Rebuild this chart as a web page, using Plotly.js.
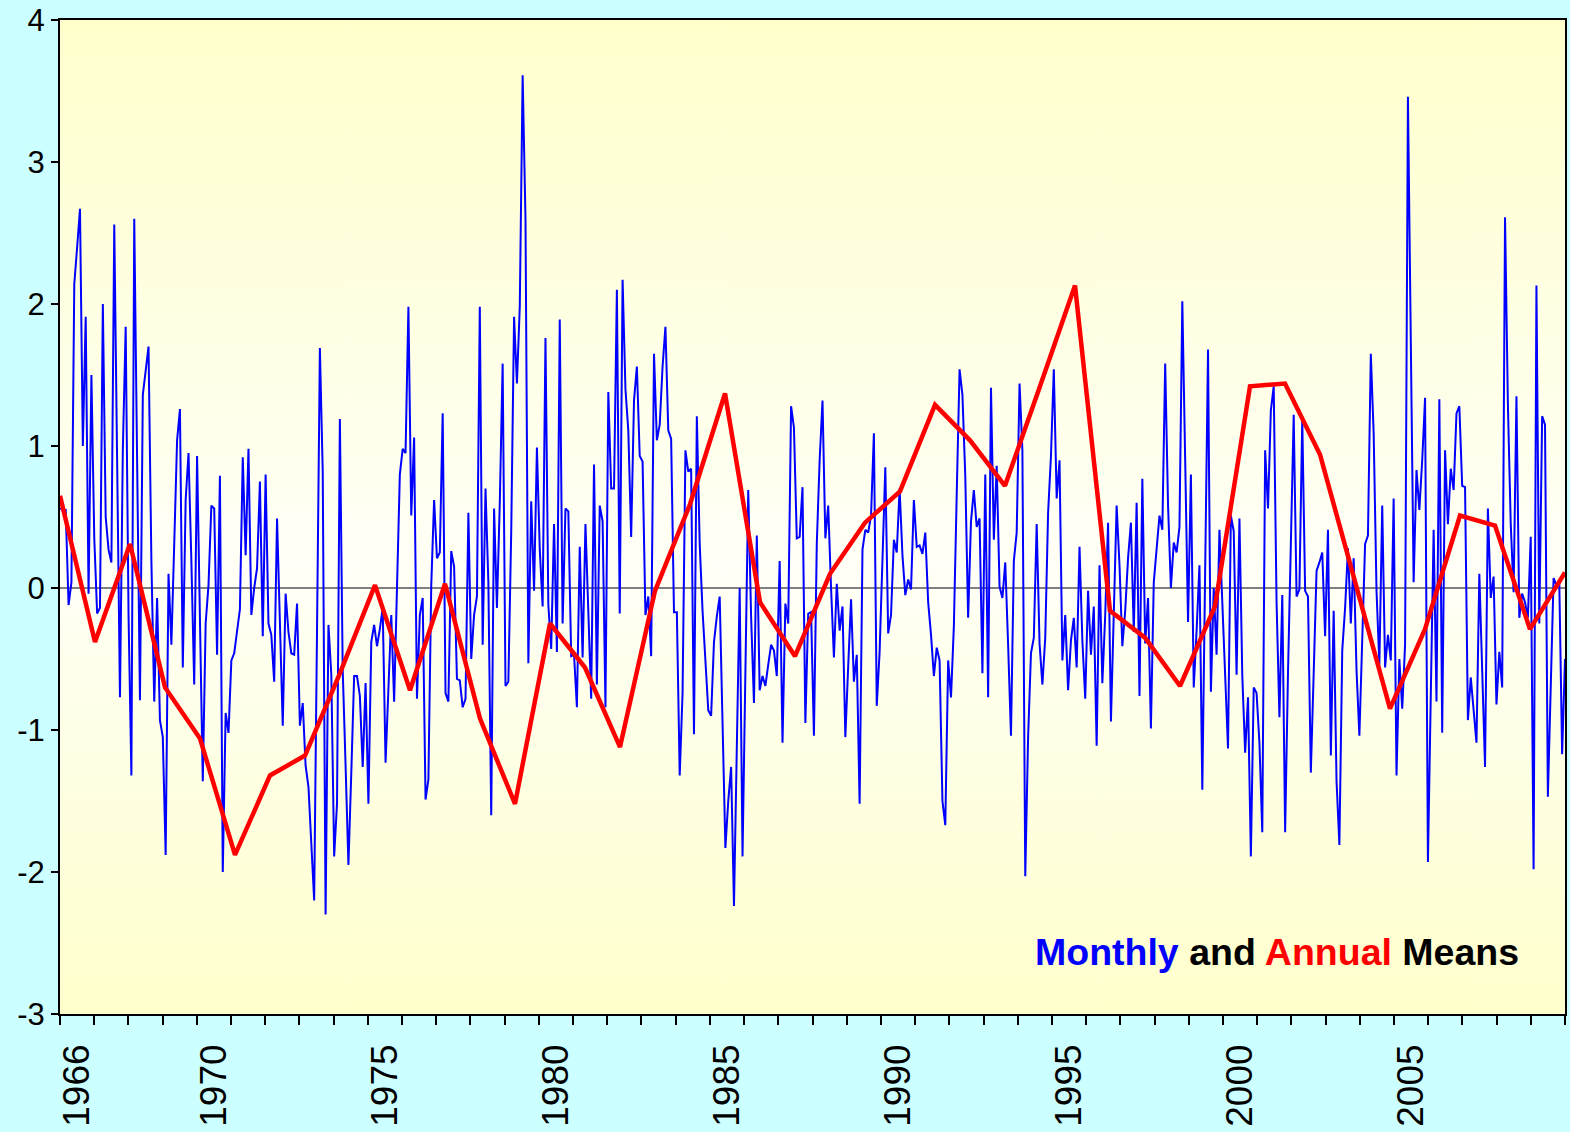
<!DOCTYPE html>
<html>
<head>
<meta charset="utf-8">
<script src="https://cdn.plot.ly/plotly-3.0.1.min.js"></script>
<style>
html, body { margin: 0; padding: 0; background: #CCFFFF; }
#chart { width: 1570px; height: 1132px; }
</style>
</head>
<body>
<div id="chart"></div>
<script>
// ---- DATA ----
const years = [1966,1967,1968,1969,1970,1971,1972,1973,1974,1975,1976,1977,1978,1979,1980,1981,1982,1983,1984,1985,1986,1987,1988,1989,1990,1991,1992,1993,1994,1995,1996,1997,1998,1999,2000,2001,2002,2003,2004,2005,2006,2007,2008,2009];

const monthly = [
  0.56, 0.55, 0.55, -0.12, 0.04, 2.14, 2.4, 2.67, 1.0, 1.91, -0.04, 1.5,
  0.35, -0.18, -0.14, 2.0, 0.5, 0.27, 0.18, 2.56, 0.9, -0.77, 0.97, 1.84,
  -0.19, -1.32, 2.6, 0.9, -0.79, 1.36, 1.54, 1.7, 0.19, -0.8, -0.07, -0.93,
  -1.05, -1.88, 0.1, -0.4, 0.31, 1.04, 1.26, -0.56, 0.62, 0.95, 0.19, -0.68,
  0.93, -0.2, -1.36, -0.25, 0.02, 0.58, 0.56, -0.47, 0.79, -2.0, -0.88, -1.02,
  -0.51, -0.46, -0.3, -0.15, 0.92, 0.23, 0.98, -0.19, 0.0, 0.14, 0.75, -0.34,
  0.8, -0.25, -0.33, -0.66, 0.49, -0.3, -0.97, -0.04, -0.31, -0.46, -0.47, -0.11,
  -0.97, -0.81, -1.25, -1.40, -1.8, -2.2, -0.3, 1.69, 0.82, -2.3, -0.26, -0.61,
  -1.89, -1.52, 1.19, -0.58, -1.25, -1.95, -1.3, -0.62, -0.62, -0.76, -1.26, -0.67,
  -1.52, -0.38, -0.26, -0.41, -0.29, -0.14, -1.23, -0.76, -0.19, -0.8, 0.04, 0.8,
  0.98, 0.95, 1.98, 0.51, 1.06, -0.78, -0.19, -0.07, -1.49, -1.35, 0.02, 0.62,
  0.21, 0.25, 1.23, -0.74, -0.8, 0.26, 0.15, -0.64, -0.65, -0.84, -0.78, 0.53,
  -0.5, -0.19, -0.06, 1.98, -0.4, 0.7, 0.04, -1.6, 0.56, -0.14, 0.6, 1.58,
  -0.69, -0.66, 0.39, 1.91, 1.44, 1.98, 3.61, 2.6, -0.53, 0.61, -0.02, 0.99,
  0.27, -0.13, 1.76, -0.12, -0.43, 0.45, -0.45, 1.89, -0.25, 0.56, 0.54, -0.48,
  -0.47, -0.84, 0.29, -0.49, 0.45, -0.19, -0.78, 0.87, -0.68, 0.58, 0.47, -0.84,
  1.38, 0.7, 0.7, 2.1, -0.18, 2.17, 1.4, 1.11, 0.36, 1.32, 1.56, 0.93,
  0.89, -0.19, -0.06, -0.48, 1.65, 1.04, 1.15, 1.56, 1.84, 1.11, 1.05, -0.17,
  -0.17, -1.32, -0.74, 0.97, 0.82, 0.84, -1.03, 1.21, 0.31, -0.16, -0.5, -0.86,
  -0.9, -0.38, -0.2, -0.06, -0.95, -1.83, -1.5, -1.26, -2.24, -1.1, 0.0, -1.89,
  -0.6, 0.69, -0.2, -0.81, 0.37, -0.72, -0.62, -0.69, -0.54, -0.4, -0.44, -0.62,
  0.19, -1.09, -0.11, -0.25, 1.28, 1.13, 0.35, 0.36, 0.71, -0.95, -0.18, -0.17,
  -1.04, 0.31, 0.9, 1.32, 0.35, 0.58, 0.0, -0.49, 0.03, -0.3, -0.13, -1.05,
  -0.55, -0.08, -0.66, -0.47, -1.52, 0.27, 0.41, 0.39, 0.51, 1.09, -0.83, -0.45,
  0.2, 0.85, -0.32, -0.19, 0.34, 0.25, 0.7, 0.23, -0.05, 0.06, -0.01, 0.62,
  0.29, 0.3, 0.24, 0.39, -0.1, -0.33, -0.62, -0.42, -0.51, -1.5, -1.67, -0.51,
  -0.77, -0.27, 0.66, 1.54, 1.36, 0.79, -0.21, 0.47, 0.69, 0.43, 0.49, -0.6,
  0.8, -0.77, 1.41, 0.34, 0.86, 0.01, -0.07, 0.18, -0.4, -1.04, 0.19, 0.39,
  1.44, 0.97, -2.03, -1.05, -0.46, -0.35, 0.45, -0.39, -0.68, -0.35, 0.53, 0.93,
  1.54, 0.63, 0.9, -0.51, -0.19, -0.72, -0.37, -0.21, -0.56, 0.29, -0.37, -0.78,
  -0.02, -0.47, -0.13, -1.11, 0.16, -0.67, -0.19, 0.46, -0.94, -0.2, 0.58, 0.16,
  -0.41, -0.16, 0.21, 0.46, -0.31, 0.6, -0.76, 0.77, -0.39, -0.07, -0.99, 0.04,
  0.3, 0.51, 0.41, 1.58, 0.58, 0.0, 0.32, 0.25, 0.43, 2.02, 0.9, -0.24,
  0.8, -0.7, -0.3, 0.16, -1.42, 0.1, 1.68, -0.73, 0.0, -0.47, 0.41, -0.1,
  -0.6, -1.13, 0.51, 0.4, -0.61, 0.49, -0.62, -1.16, -0.77, -1.89, -0.7, -0.74,
  -1.09, -1.72, 0.97, 0.56, 1.25, 1.42, -0.1, -0.91, -0.05, -1.72, -0.6, 0.41,
  1.22, -0.06, -0.01, 1.19, -0.02, -0.06, -1.3, -0.6, 0.12, 0.18, 0.25, -0.34,
  0.41, -1.18, -0.16, -1.36, -1.81, -0.44, -0.14, 0.28, -0.25, 0.21, -0.58, -1.04,
  -0.4, 0.31, 0.37, 1.65, 1.09, -0.02, -0.54, 0.58, -0.56, -0.33, -0.51, 0.63,
  -1.32, -0.5, -0.85, -0.4, 3.46, 1.8, 0.04, 0.83, 0.55, 0.9, 1.34, -1.93,
  -0.8, 0.41, -0.8, 1.33, -1.02, 0.97, 0.45, 0.84, 0.69, 1.23, 1.28, 0.72,
  0.71, -0.93, -0.63, -0.85, -1.09, 0.1, -0.62, -1.26, 0.56, -0.07, 0.08, -0.82,
  -0.45, -0.7, 2.61, 1.3, 0.45, -0.03, 1.35, -0.21, -0.04, -0.1, -0.21, 0.36,
  -1.98, 2.13, -0.25, 1.21, 1.15, -1.47, -0.7, 0.07, 0.02, 0.04, -1.17, -0.5
];

const annual = [
  0.65, -0.38, 0.31, -0.70, -1.06, -1.88, -1.32, -1.18, -0.60, 0.02,
  -0.72, 0.03, -0.92, -1.52, -0.25, -0.56, -1.12, -0.02, 0.59, 1.37,
  -0.10, -0.48, 0.10, 0.46, 0.68, 1.29, 1.04, 0.72, 1.42, 2.13,
  -0.16, -0.35, -0.69, -0.13, 1.42, 1.44, 0.94, 0.05, -0.85, -0.29,
  0.51, 0.44, -0.29, 0.11
];

const labelYears = [1966, 1970, 1975, 1980, 1985, 1990, 1995, 2000, 2005];
const yTickVals = [-3, -2, -1, 0, 1, 2, 3, 4];
const yTickText = ['-3', '-2', '-1', '0', '1', '2', '3', '4'];

// ---- POSITIONS (from indices) ----
const nYears = years.length;
const x0 = years[0];
const x1 = years[0] + nYears;
const xMonthly = monthly.map((_, i) => x0 + i * nYears / (monthly.length - 1));
const xAnnual = annual.map((_, i) => x0 + i * nYears / (annual.length - 1));
const yearBounds = [];
for (let y = x0; y <= x1; y++) yearBounds.push(y);
const labelPos = labelYears.map(y => y + 0.5);
const labelText = labelYears.map(String);

// ---- Background gradient image ----
const cv = document.createElement('canvas');
cv.width = 8; cv.height = 600;
const ctx = cv.getContext('2d');
const grad = ctx.createLinearGradient(0, 0, 0, 600);
grad.addColorStop(0, '#FFFFCC');
grad.addColorStop(0.55, '#FFFFF7');
grad.addColorStop(1, '#FFFFCC');
ctx.fillStyle = grad;
ctx.fillRect(0, 0, 8, 600);
const bgURL = cv.toDataURL('image/png');

const FONT = 'Arial, "Liberation Sans", sans-serif';

const traces = [
  {
    x: xMonthly, y: monthly, type: 'scatter', mode: 'lines',
    line: { color: '#0000FF', width: 2 },
    xaxis: 'x', yaxis: 'y', hoverinfo: 'skip', showlegend: false
  },
  {
    x: xAnnual, y: annual, type: 'scatter', mode: 'lines',
    line: { color: '#FF0000', width: 4.5 },
    xaxis: 'x2', yaxis: 'y', hoverinfo: 'skip', showlegend: false
  }
];

const layout = {
  width: 1570, height: 1132, autosize: false,
  margin: { l: 60, r: 5, t: 20, b: 118, pad: 0 },
  paper_bgcolor: '#CCFFFF',
  plot_bgcolor: '#FFFFCC',
  font: { family: FONT, color: '#000000' },
  showlegend: false,
  images: [{
    source: bgURL, xref: 'paper', yref: 'paper', x: 0, y: 1,
    sizex: 1, sizey: 1, sizing: 'stretch', xanchor: 'left', yanchor: 'top',
    layer: 'below'
  }],
  xaxis: {
    range: [x0, x1], tickmode: 'array', tickvals: yearBounds,
    showticklabels: false, ticks: 'outside', ticklen: 9, tickwidth: 2, tickcolor: '#000000',
    showline: true, linecolor: '#000000', linewidth: 2, mirror: true,
    showgrid: false, zeroline: false
  },
  xaxis2: {
    range: [x0, x1], overlaying: 'x', anchor: 'y', side: 'bottom',
    tickmode: 'array', tickvals: labelPos, ticktext: labelText,
    tickangle: -90, ticks: '', ticklabelstandoff: 22,
    tickfont: { size: 37, family: FONT, color: '#000000' },
    showline: false, showgrid: false, zeroline: false
  },
  yaxis: {
    range: [-3, 4], tickmode: 'array', tickvals: yTickVals, ticktext: yTickText,
    ticks: 'outside', ticklen: 7, tickwidth: 2, tickcolor: '#000000',
    tickfont: { size: 31, family: FONT, color: '#000000' },
    showline: true, linecolor: '#000000', linewidth: 2, mirror: true,
    showgrid: false, zeroline: true, zerolinecolor: '#808080', zerolinewidth: 1.5
  },
  annotations: [{
    xref: 'paper', yref: 'paper', x: 0.9705, y: 0.062,
    xanchor: 'right', yanchor: 'middle', showarrow: false,
    text: '<b><span style="color:#0000FF">Monthly</span> and <span style="color:#FF0000">Annual</span> Means</b>',
    font: { size: 37.5, family: FONT, color: '#000000' }
  }]
};

Plotly.newPlot('chart', traces, layout, { staticPlot: true, displayModeBar: false });
</script>
</body>
</html>
